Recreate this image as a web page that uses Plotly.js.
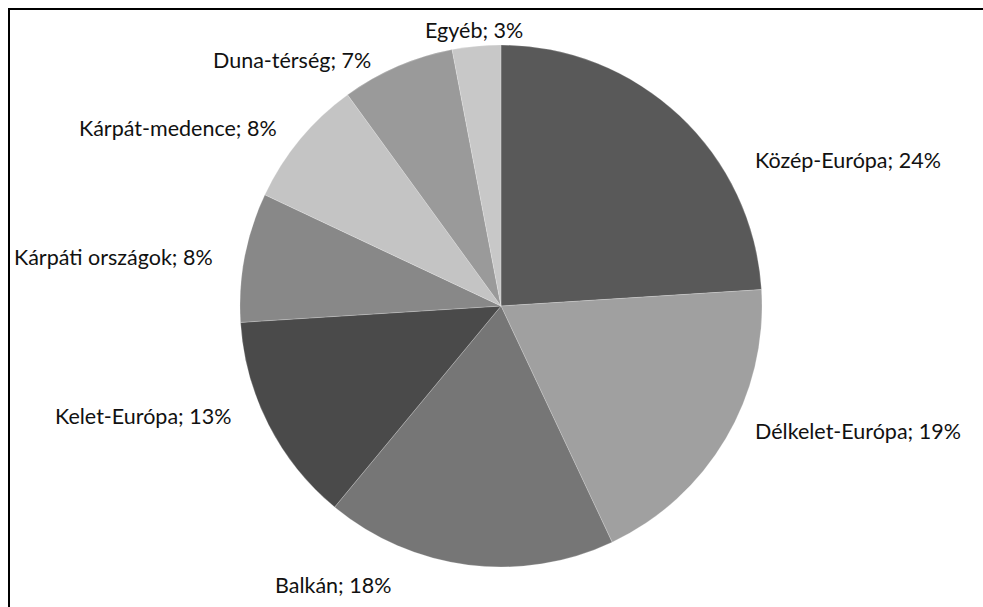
<!DOCTYPE html>
<html>
<head>
<meta charset="utf-8">
<script src="https://cdn.plot.ly/plotly-3.0.1.min.js"></script>
<style>html,body{margin:0;padding:0;background:#fff}#chart{width:983px;height:607px}</style>
</head>
<body>
<div id="chart"></div>
<script>
const regions = ["Közép-Európa", "Délkelet-Európa", "Balkán", "Kelet-Európa", "Kárpáti országok", "Kárpát-medence", "Duna-térség", "Egyéb"];
const shares = [24, 19, 18, 13, 8, 8, 7, 3];
const sliceColors = ["#595959", "#a0a0a0", "#767676", "#4a4a4a", "#888888", "#c4c4c4", "#9a9a9a", "#c8c8c8"];
// label centres in pixels (x, y from top)
const labelPos = [[848,160],[858,431],[333,585],[143,416],[113,257],[178,128],[292,60],[474,30]];

const W = 983, H = 607;
const cx = 501, cy = 306, R = 261;

const annotations = regions.map((r, i) => ({
  x: labelPos[i][0] / W, y: 1 - labelPos[i][1] / H,
  xref: 'paper', yref: 'paper', xanchor: 'center', yanchor: 'middle',
  text: r + '; ' + shares[i] + '%', showarrow: false,
  font: {family: 'Lato, "Open Sans", sans-serif', size: 21.5, color: '#111'}
}));

Plotly.newPlot('chart', [{
  type: 'pie',
  labels: regions,
  values: shares,
  sort: false,
  direction: 'clockwise',
  rotation: 0,
  marker: {colors: sliceColors, line: {color: 'rgba(255,255,255,0.35)', width: 0.6}},
  textinfo: 'none',
  hoverinfo: 'label+percent',
  showlegend: false,
  domain: {x: [(cx - R) / W, (cx + R) / W], y: [(H - cy - R) / H, (H - cy + R) / H]}
}], {
  width: W, height: H,
  margin: {l: 0, r: 0, t: 0, b: 0},
  paper_bgcolor: '#fff',
  showlegend: false,
  annotations: annotations,
  shapes: [{type: 'rect', xref: 'paper', yref: 'paper', x0: 9 / W, x1: 1.05, y0: -0.05, y1: 1 - 9 / H,
            line: {color: '#000', width: 2}}]
}, {displayModeBar: false, staticPlot: true});
</script>
</body>
</html>
